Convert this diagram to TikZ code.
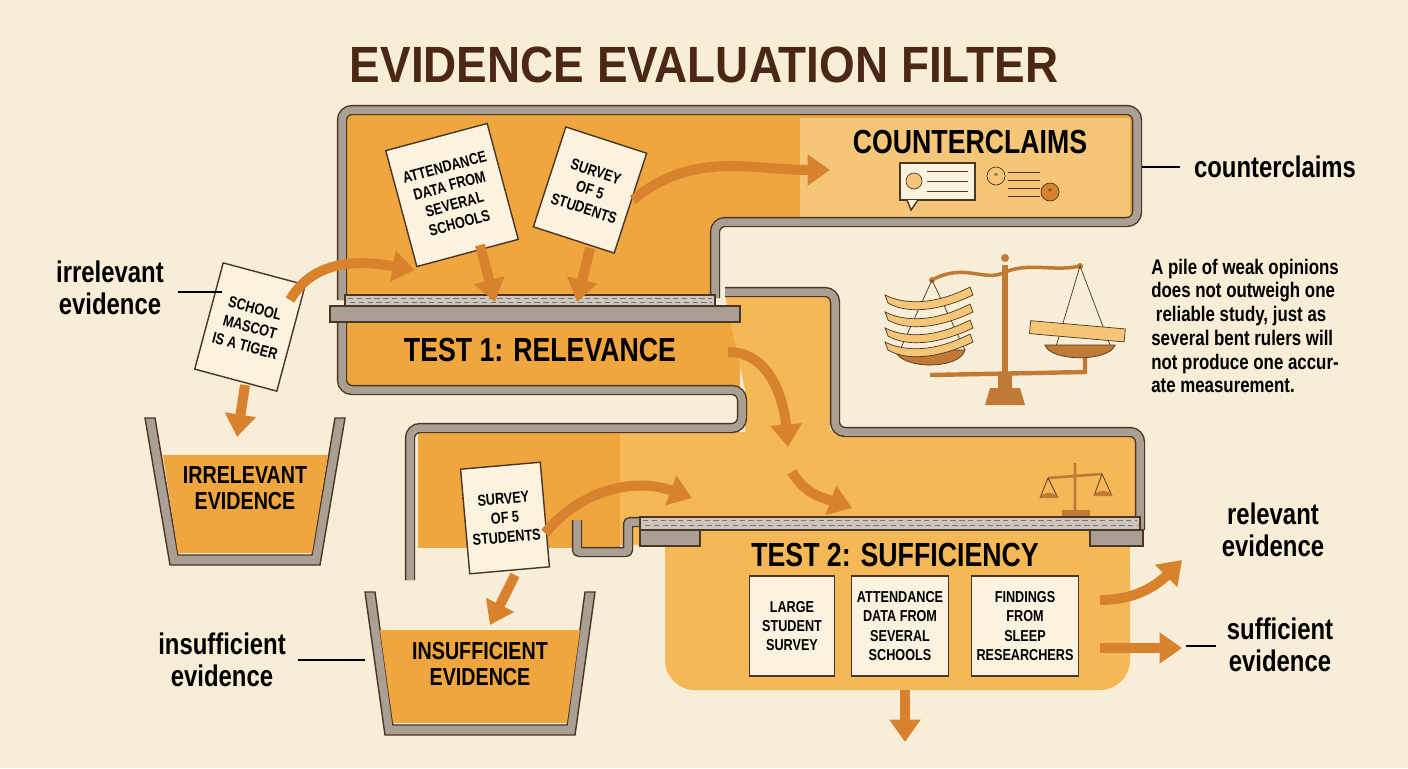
\documentclass[tikz,border=0pt]{standalone}
\usepackage{fontspec}
\setmainfont{Liberation Sans}
\newfontfamily\condf{Liberation Sans}[FakeStretch=0.8]
\newfontfamily\titlef{Liberation Sans}[FakeStretch=0.9]
\usetikzlibrary{arrows.meta}
\definecolor{bgCream}{HTML}{F8EDD6}
\definecolor{fillOrange}{HTML}{EFA63E}
\definecolor{fillLight}{HTML}{F4B857}
\definecolor{fillPale}{HTML}{F5C678}
\definecolor{wallGray}{HTML}{A9A093}
\definecolor{lineDark}{HTML}{4B3524}
\definecolor{arrowOrange}{HTML}{D8822E}
\definecolor{titleBrown}{HTML}{4A2814}
\definecolor{paperCream}{HTML}{FBF3E0}
\definecolor{brassBrown}{HTML}{C07A35}
\tikzset{
  wall/.style={draw=lineDark, line width=0.8pt, double=wallGray, double distance=0.15cm, rounded corners=0.2cm},
  ledge/.style={draw=lineDark, line width=0.8pt, fill=wallGray},
  sieve/.style={draw=lineDark, line width=0.6pt, fill=wallGray!60},
  holes/.style={draw=lineDark!70, line width=1pt, dash pattern=on 3pt off 2pt},
  paper/.style={draw=lineDark, line width=0.8pt, fill=paperCream, font=\condf\bfseries\fontsize{9}{11}\selectfont, align=center, inner sep=3pt},
  flow/.style={draw=arrowOrange, line width=0.2cm, -{Triangle[length=0.45cm,width=0.6cm]}},
  tag/.style={font=\condf\bfseries\fontsize{17}{18}\selectfont, align=center, text=black},
  binlabel/.style={font=\condf\bfseries\fontsize{14}{15}\selectfont, align=center, text=black},
  pointer/.style={draw=black, line width=0.8pt}
}
\begin{document}
\begin{tikzpicture}[x=0.02cm,y=-0.02cm]
  % background
  \fill[bgCream] (0,0) rectangle (1408,768);
  \useasboundingbox (0,0) rectangle (1408,768);
  % title
  \node[font=\titlef\bfseries\fontsize{29}{30}\selectfont, text=titleBrown] (title) at (704,65) {EVIDENCE EVALUATION FILTER};
  % orange channel fills
  \fill[fillOrange] (345,115) -- (1133,115) -- (1133,220) -- (715,220) -- (715,300) -- (345,300) -- cycle;
  \fill[fillPale] (800,118) rectangle (1130,218);
  \fill[fillOrange] (345,315) rectangle (740,388);
  \fill[fillLight] (725,295) -- (830,295) -- (830,430) -- (1135,430) -- (1135,545) -- (620,545) -- (620,432) -- (745,432) -- (745,390) -- cycle;
  \fill[fillOrange] (418,432) rectangle (620,548);
  \fill[fillLight, rounded corners=0.6cm] (665,540) -- (1130,540) -- (1130,690) -- (665,690) -- cycle;
  \fill[fillLight] (665,540) rectangle (1130,600);
  % walls
  \draw[wall] (715,298) -- (715,222) -- (1137,222) -- (1137,110) -- (342,110) -- (342,300);
  \draw[wall] (342,318) -- (342,390) -- (742,390) -- (742,428) -- (410,428) -- (410,580);
  \draw[wall] (725,292) -- (835,292) -- (835,432) -- (1140,432) -- (1140,530);
  \draw[wall, rounded corners=0.05cm] (577,520) -- (577,552) -- (628,552) -- (628,522) -- (640,522);
  % shelves
  \draw[sieve] (345,295) rectangle (715,306);
  \draw[holes] (348,298.5) -- (712,298.5) (350,302.5) -- (712,302.5);
  \draw[ledge] (330,306) rectangle (740,322);
  \draw[sieve] (640,517) rectangle (1140,530);
  \draw[holes] (643,520.5) -- (1137,520.5) (645,525.5) -- (1137,525.5);
  \draw[ledge] (640,530) rectangle (700,546);
  \draw[ledge] (1090,530) rectangle (1143,546);
  % section labels
  \node[font=\condf\bfseries\fontsize{19}{20}\selectfont] (test1) at (540,350) {TEST 1: RELEVANCE};
  \node[font=\condf\bfseries\fontsize{19}{20}\selectfont] (test2) at (895,555) {TEST 2: SUFFICIENCY};
  \node[font=\condf\bfseries\fontsize{19}{20}\selectfont] (cclaim) at (970,142) {COUNTERCLAIMS};
  % counterclaims icons
  \draw[lineDark, line width=0.8pt, fill=paperCream] (900,163) rectangle (975,200);
  \draw[lineDark, line width=0.8pt, fill=paperCream] (907,200) -- (911,210) -- (918,200);
  \draw[lineDark, fill=fillPale] (914,181) circle (8);
  \foreach \yy in {171,181,191} \draw[lineDark] (927,\yy) -- (968,\yy);
  \draw[lineDark, fill=fillPale] (996,176) circle (9) node[font=\bfseries\tiny] {``};
  \draw[lineDark, fill=arrowOrange] (1050,192) circle (9) node[font=\bfseries\tiny] {''};
  \foreach \yy in {172,180,188,196} \draw[lineDark] (1008,\yy) -- (1040,\yy);
  % papers in test 1
  \node[paper, rotate=-15, minimum width=1.7cm, minimum height=2.2cm] (mascot) at (250,327) {SCHOOL\\MASCOT\\IS A TIGER};
  \node[paper, rotate=15, minimum width=2.1cm, minimum height=2.4cm] (attend1) at (452,195) {ATTENDANCE\\DATA FROM\\SEVERAL\\SCHOOLS};
  \node[paper, rotate=-18, minimum width=1.7cm, minimum height=2.1cm] (survey1) at (590,190) {SURVEY\\OF 5\\STUDENTS};
  \node[paper, rotate=5, minimum width=1.6cm, minimum height=2.1cm] (survey2) at (505,518) {SURVEY\\OF 5\\STUDENTS};
  % papers in test 2
  \node[paper, minimum width=1.7cm, minimum height=2cm] (large) at (792,626) {LARGE\\STUDENT\\SURVEY};
  \node[paper, minimum width=1.8cm, minimum height=2cm] (attend2) at (900,626) {ATTENDANCE\\DATA FROM\\SEVERAL\\SCHOOLS};
  \node[paper, minimum width=1.7cm, minimum height=2cm] (sleep) at (1025,626) {FINDINGS\\FROM\\SLEEP\\RESEARCHERS};
  % bins
  \draw[lineDark, line width=0.8pt, fill=wallGray] (145,418) -- (170,565) -- (320,565) -- (345,418) -- (335,418) -- (312,555) -- (178,555) -- (155,418) -- cycle;
  \fill[fillOrange] (163,455) -- (178,553) -- (312,553) -- (328,455) -- cycle;
  \node[binlabel] (irrbin) at (245,488) {IRRELEVANT\\EVIDENCE};
  \draw[lineDark, line width=0.8pt, fill=wallGray] (365,592) -- (385,735) -- (575,735) -- (595,592) -- (585,592) -- (567,725) -- (393,725) -- (375,592) -- cycle;
  \fill[fillOrange] (380,630) -- (393,723) -- (567,723) -- (580,630) -- cycle;
  \node[binlabel] (insbin) at (480,664) {INSUFFICIENT\\EVIDENCE};
  % flow arrows
  \draw[flow] (290,300) to[out=60, in=170] (415,270);
  \draw[flow] (245,385) -- (237,437);
  \draw[flow] (480,245) -- (495,302);
  \draw[flow] (590,248) -- (577,302);
  \draw[flow] (633,200) to[out=40, in=180] (830,170);
  \draw[flow] (728,352) to[out=0, in=95] (788,447);
  \draw[flow] (792,472) to[out=-60, in=160] (852,508);
  \draw[flow] (545,533) to[out=50, in=160] (692,498);
  \draw[flow] (515,575) -- (490,625);
  \draw[flow] (1100,600) to[out=0, in=-135] (1182,560);
  \draw[flow] (1100,648) -- (1182,648);
  \draw[flow] (905,690) -- (905,742);
  % outside labels
  \node[tag] (irr) at (110,288) {irrelevant\\evidence};
  \draw[pointer] (178,292) -- (222,292);
  \node[tag] (ins) at (222,660) {insufficient\\evidence};
  \draw[pointer] (298,660) -- (365,660);
  \node[tag] (cc) at (1275,167) {counterclaims};
  \draw[pointer] (1142,167) -- (1180,167);
  \node[tag] (rel) at (1273,530) {relevant\\evidence};
  \node[tag] (suf) at (1280,645) {sufficient\\evidence};
  \draw[pointer] (1186,646) -- (1216,646);
  \node[font=\condf\bfseries\fontsize{12}{13.5}\selectfont, align=left] (moral) at (1245,326) {A pile of weak opinions\\does not outweigh one\\\ reliable study, just as\\several bent rulers will\\not produce one accur-\\ate measurement.};
  % big balance scale
  \draw[brassBrown, line width=3pt] (1005,265) -- (1005,375);
  \fill[brassBrown] (985,405) -- (990,388) -- (1020,388) -- (1025,405) -- cycle;
  \fill[brassBrown] (998,375) rectangle (1012,390);
  \draw[brassBrown, line width=2pt] (932,280) .. controls (965,262) and (985,283) .. (1005,272) .. controls (1030,262) and (1055,272) .. (1080,266);
  \fill[brassBrown] (1005,258) circle (4) (932,280) circle (3) (1080,266) circle (3);
  \draw[lineDark] (932,280) -- (900,350) (932,280) -- (965,350);
  \draw[lineDark] (1080,266) -- (1055,350) (1080,266) -- (1110,345);
  \draw[brassBrown, line width=2.5pt] (930,375) -- (1085,372) -- (1085,358);
  \draw[lineDark, fill=brassBrown] (895,350) .. controls (900,370) and (960,370) .. (965,350) -- cycle;
  \draw[lineDark, fill=brassBrown] (1045,345) .. controls (1050,362) and (1110,362) .. (1115,345) -- cycle;
  \foreach \yy in {305,322,338,352} \draw[lineDark, fill=fillPale] (885,\yy-10) .. controls (905,\yy) and (935,\yy) .. (970,\yy-18) -- (973,\yy-10) .. controls (935,\yy+8) and (905,\yy+8) .. (888,\yy-2) -- cycle;
  \draw[lineDark, fill=fillPale, rotate around={-5:(1080,330)}] (1030,325) rectangle (1125,338);
  % small balance icon
  \draw[brassBrown, line width=1.5pt] (1075,463) -- (1075,510) (1048,478) -- (1102,474);
  \fill[brassBrown] (1062,510) rectangle (1090,516);
  \draw[lineDark] (1048,478) -- (1040,498) (1048,478) -- (1058,498) (1102,474) -- (1094,496) (1102,474) -- (1112,496);
  \fill[brassBrown] (1040,498) arc (180:360:9 and 5) -- cycle;
  \fill[brassBrown] (1094,496) arc (180:360:9 and 5) -- cycle;
\end{tikzpicture}
\end{document}
